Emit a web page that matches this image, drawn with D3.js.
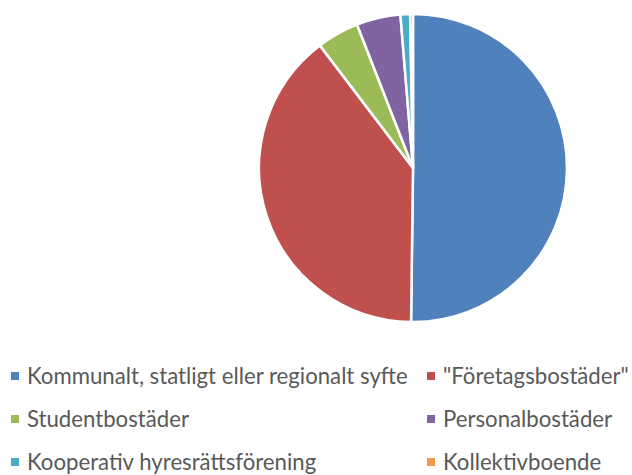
<!DOCTYPE html>
<html>
<head>
<meta charset="utf-8">
<script src="https://cdn.jsdelivr.net/npm/d3@7"></script>
<style>
  body { margin: 0; background: #fff; }
  svg { display: block; }
</style>
</head>
<body>
<svg id="chart" width="632" height="475"></svg>
<script>
// data (share in percent)
const categories = [
  'Kommunalt, statligt eller regionalt syfte',
  '"Företagsbostäder"',
  'Studentbostäder',
  'Personalbostäder',
  'Kooperativ hyresrättsförening',
  'Kollektivboende'
];
const shares = [50.0, 39.3, 4.4, 4.6, 1.0, 0.3];
const colors = ['#4F81BD', '#C0504D', '#9BBB59', '#8064A2', '#4BACC6', '#F79646'];

const data = categories.map((name, i) => ({ name: name, value: shares[i] }));

const svg = d3.select('#chart');
const cx = 413, cy = 168, radius = 154;

const color = d3.scaleOrdinal().domain(categories).range(colors);

const pie = d3.pie()
  .sort(null)
  .value(d => d.value);

const arc = d3.arc()
  .innerRadius(0)
  .outerRadius(radius);

const g = svg.append('g')
  .attr('transform', `translate(${cx},${cy})`);

g.selectAll('path')
  .data(pie(data))
  .enter().append('path')
  .attr('d', arc)
  .attr('fill', d => color(d.data.name))
  .attr('stroke', '#fff')
  .attr('stroke-width', 2.5)
  .attr('stroke-linejoin', 'round');

// legend, two columns
const colX = [10, 426];
const rowY = [376, 419, 462];
const fontSize = 22.2;

const legend = svg.append('g')
  .attr('font-family', 'Lato, "Open Sans", sans-serif')
  .attr('font-size', fontSize)
  .attr('fill', '#595959');

const items = legend.selectAll('g')
  .data(data)
  .enter().append('g')
  .attr('transform', (d, i) => `translate(${colX[i % 2]},${rowY[Math.floor(i / 2)]})`);

items.append('rect')
  .attr('x', 1)
  .attr('y', -4)
  .attr('width', 8)
  .attr('height', 8)
  .attr('fill', d => color(d.name));

items.append('text')
  .attr('x', 17)
  .attr('dy', '0.36em')
  .text(d => d.name);
</script>
</body>
</html>
